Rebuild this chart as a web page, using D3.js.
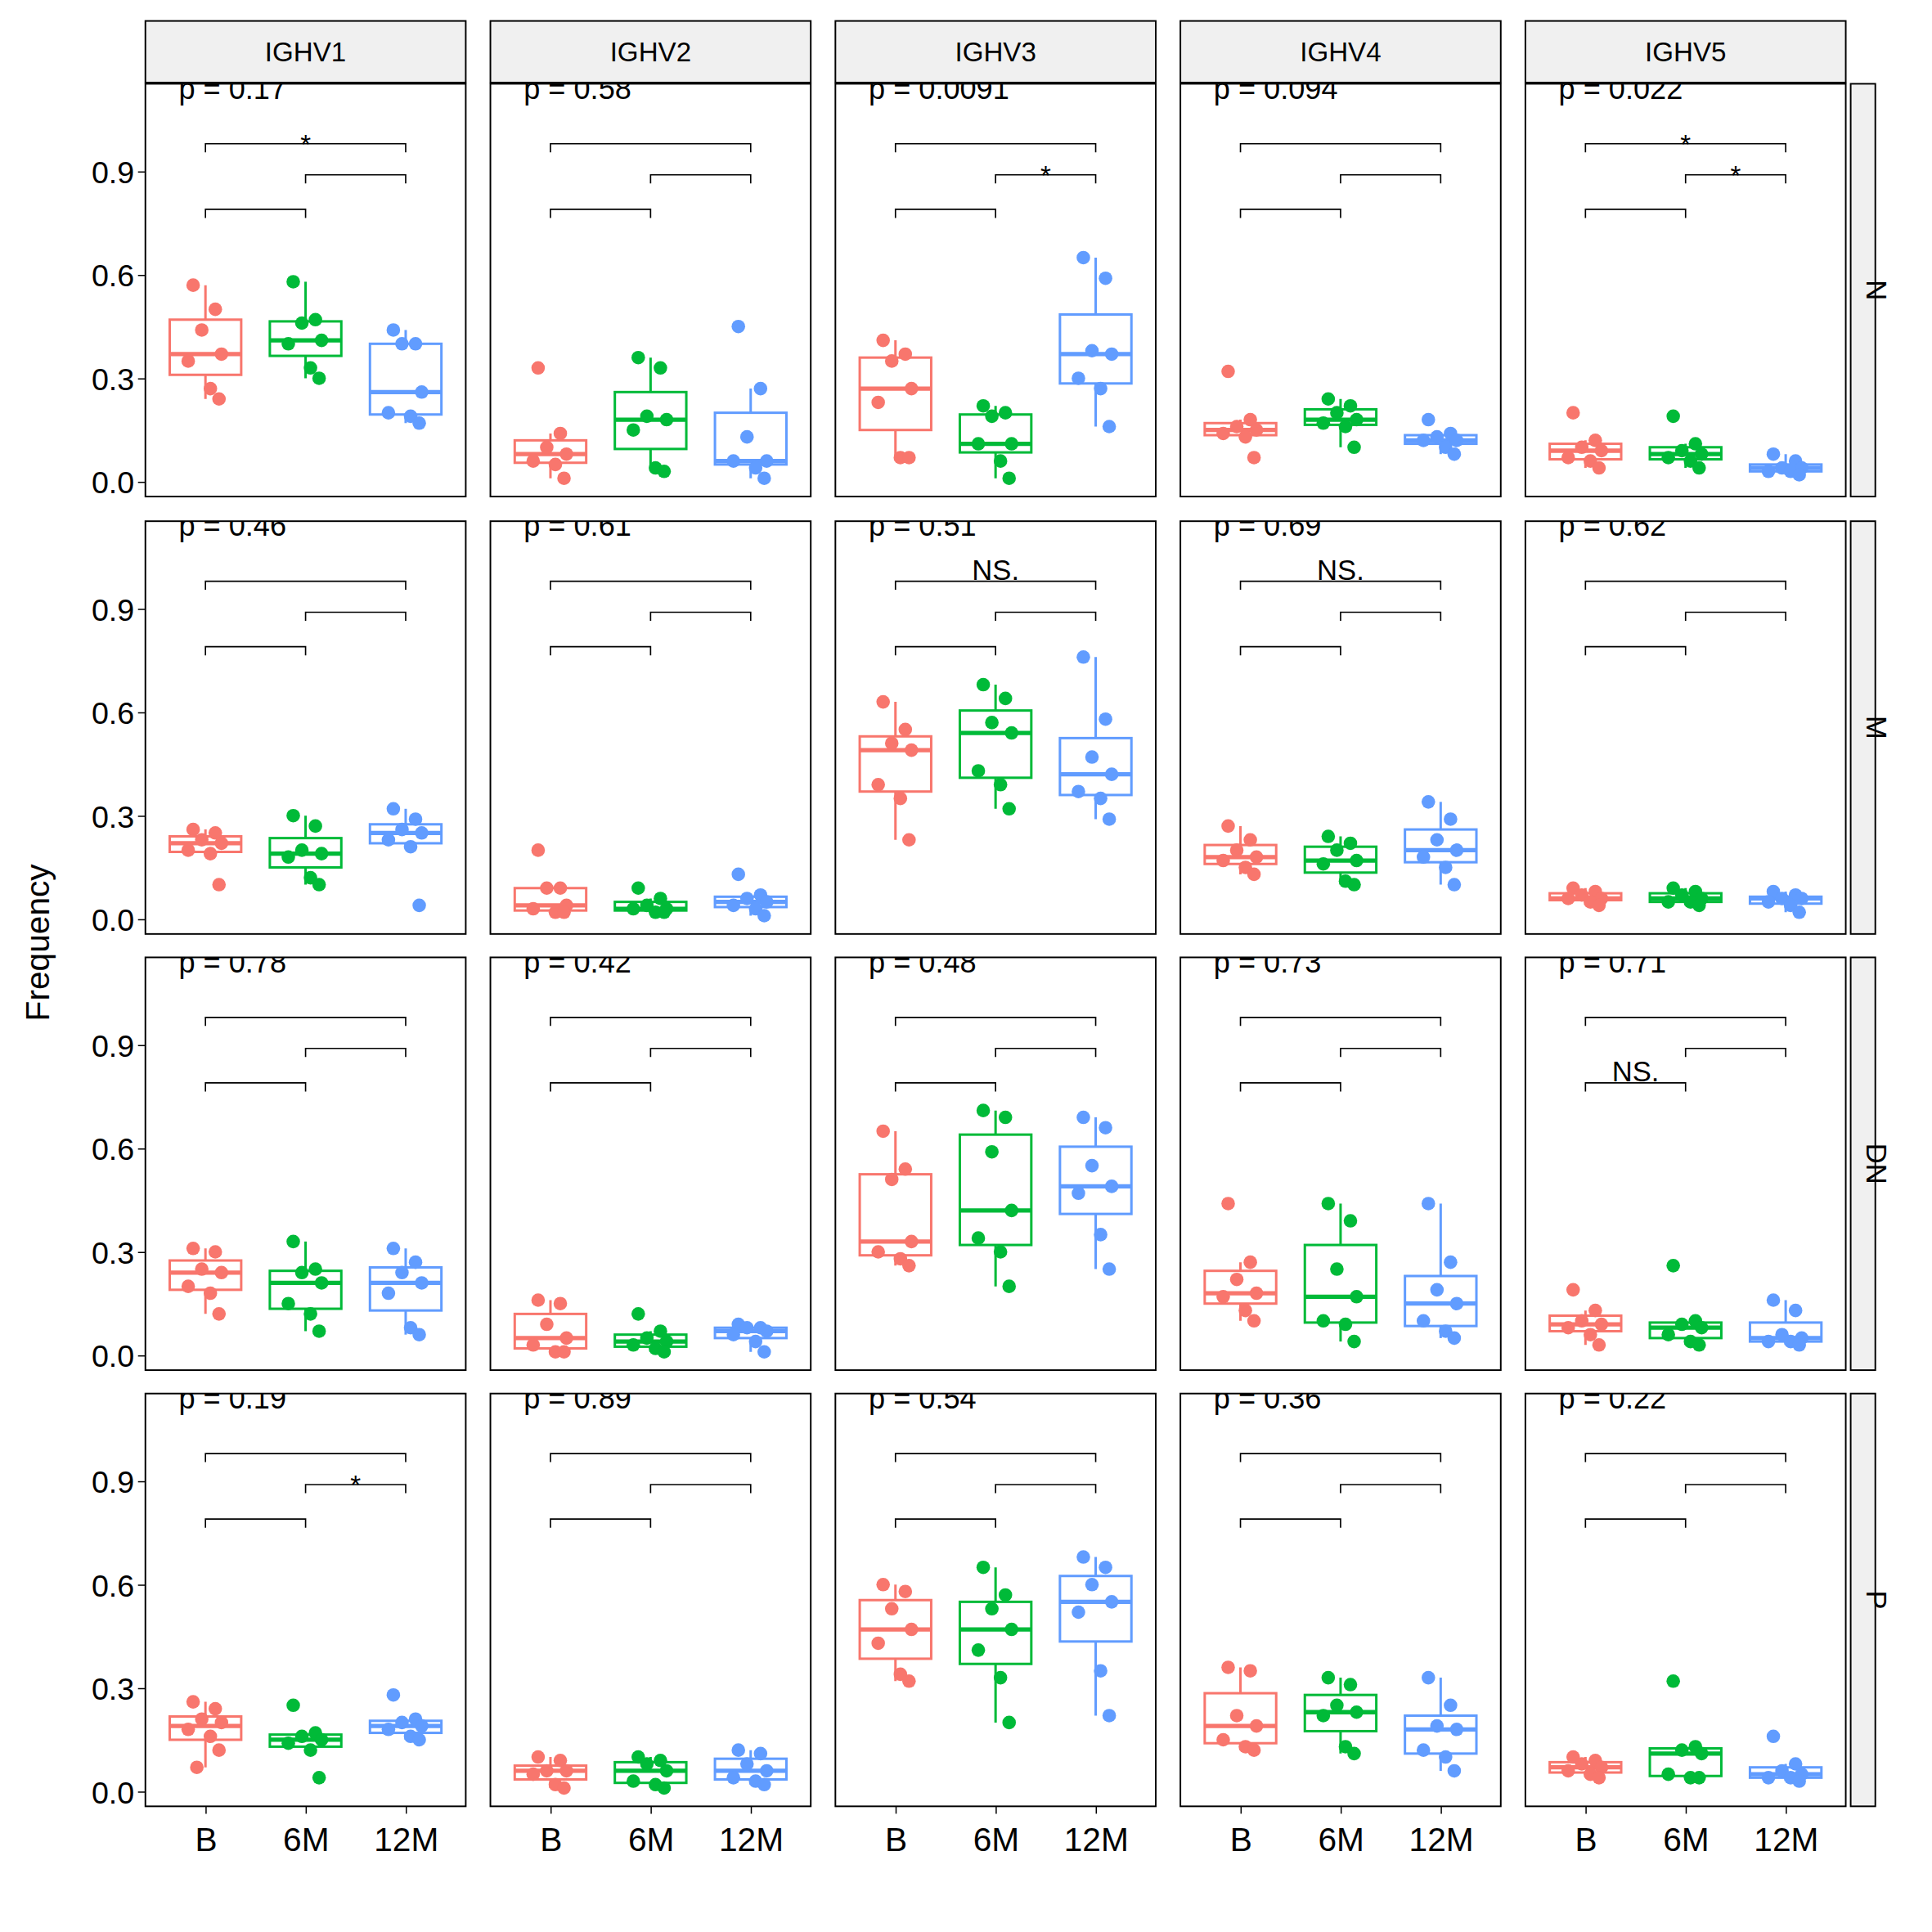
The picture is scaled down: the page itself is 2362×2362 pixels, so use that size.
<!DOCTYPE html>
<html><head><meta charset="utf-8">
<script src="https://cdn.jsdelivr.net/npm/d3@7"></script>
<style>body{margin:0;background:#fff}text{font-family:"Liberation Sans",Arial,sans-serif}</style>
</head><body><svg id="chart"></svg>
<script>
var genes = ["IGHV1","IGHV2","IGHV3","IGHV4","IGHV5"];
var cells = ["N","M","DN","P"];
var groups = ["B","6M","12M"];
var colors = ["#F8766D","#00BA38","#619CFF"];
var yTicks = [0,0.3,0.6,0.9];

// values[cell][gene] = [B, 6M, 12M]
var valuesN = [
 [[0.57,0.50,0.44,0.37,0.35,0.27,0.24],[0.58,0.47,0.46,0.41,0.40,0.33,0.30],[0.44,0.40,0.40,0.26,0.20,0.19,0.17]],
 [[0.33,0.14,0.10,0.08,0.06,0.05,0.01],[0.36,0.33,0.19,0.18,0.15,0.04,0.03],[0.45,0.27,0.13,0.06,0.06,0.04,0.01]],
 [[0.41,0.37,0.35,0.27,0.23,0.07,0.07],[0.22,0.20,0.19,0.11,0.11,0.06,0.01],[0.65,0.59,0.38,0.37,0.30,0.27,0.16]],
 [[0.32,0.18,0.16,0.15,0.14,0.13,0.07],[0.24,0.22,0.20,0.18,0.17,0.16,0.10],[0.18,0.14,0.13,0.12,0.12,0.10,0.08]],
 [[0.20,0.12,0.10,0.09,0.07,0.06,0.04],[0.19,0.11,0.09,0.08,0.07,0.06,0.04],[0.08,0.06,0.04,0.04,0.03,0.03,0.02]]];
var valuesM = [
 [[0.26,0.25,0.23,0.22,0.20,0.19,0.10],[0.30,0.27,0.20,0.19,0.18,0.12,0.10],[0.32,0.29,0.26,0.25,0.23,0.21,0.04]],
 [[0.20,0.09,0.09,0.04,0.03,0.02,0.02],[0.09,0.06,0.04,0.03,0.03,0.02,0.02],[0.13,0.07,0.06,0.05,0.04,0.03,0.01]],
 [[0.63,0.55,0.51,0.49,0.39,0.35,0.23],[0.68,0.64,0.57,0.54,0.43,0.39,0.32],[0.76,0.58,0.47,0.42,0.37,0.35,0.29]],
 [[0.27,0.23,0.20,0.18,0.17,0.15,0.13],[0.24,0.22,0.20,0.17,0.16,0.11,0.10],[0.34,0.29,0.23,0.20,0.18,0.15,0.10]],
 [[0.09,0.08,0.07,0.06,0.06,0.05,0.04],[0.09,0.08,0.07,0.06,0.05,0.05,0.04],[0.08,0.07,0.06,0.06,0.05,0.04,0.02]]];
var valuesDN = [
 [[0.31,0.30,0.25,0.24,0.20,0.18,0.12],[0.33,0.25,0.24,0.21,0.15,0.12,0.07],[0.31,0.27,0.24,0.21,0.18,0.08,0.06]],
 [[0.16,0.15,0.09,0.05,0.03,0.01,0.01],[0.12,0.07,0.05,0.04,0.03,0.02,0.01],[0.09,0.08,0.08,0.07,0.06,0.04,0.01]],
 [[0.65,0.54,0.51,0.33,0.30,0.28,0.26],[0.71,0.69,0.59,0.42,0.34,0.30,0.20],[0.69,0.66,0.55,0.49,0.47,0.35,0.25]],
 [[0.44,0.27,0.22,0.18,0.17,0.13,0.10],[0.44,0.39,0.25,0.17,0.10,0.09,0.04],[0.44,0.27,0.19,0.15,0.10,0.07,0.05]],
 [[0.19,0.13,0.10,0.09,0.08,0.06,0.03],[0.26,0.10,0.09,0.08,0.06,0.04,0.03],[0.16,0.13,0.06,0.05,0.04,0.04,0.03]]];
var valuesP = [
 [[0.26,0.24,0.21,0.20,0.18,0.16,0.12,0.07],[0.25,0.17,0.16,0.15,0.14,0.12,0.04],[0.28,0.21,0.20,0.19,0.18,0.16,0.15]],
 [[0.10,0.09,0.06,0.06,0.05,0.02,0.01],[0.10,0.09,0.08,0.06,0.03,0.02,0.01],[0.12,0.11,0.08,0.06,0.04,0.03,0.02]],
 [[0.60,0.58,0.53,0.47,0.43,0.34,0.32],[0.65,0.57,0.53,0.47,0.41,0.33,0.20],[0.68,0.65,0.60,0.55,0.52,0.35,0.22]],
 [[0.36,0.35,0.22,0.19,0.15,0.13,0.12],[0.33,0.31,0.25,0.23,0.22,0.13,0.11],[0.33,0.25,0.19,0.18,0.12,0.10,0.06]],
 [[0.10,0.09,0.08,0.07,0.06,0.05,0.04],[0.32,0.13,0.12,0.11,0.05,0.04,0.04],[0.16,0.08,0.06,0.05,0.04,0.04,0.03]]];
var values = [valuesN, valuesM, valuesDN, valuesP];

var pValues = [
 ["0.17","0.58","0.0091","0.094","0.022"],
 ["0.46","0.61","0.51","0.69","0.62"],
 ["0.78","0.42","0.48","0.73","0.71"],
 ["0.19","0.89","0.54","0.36","0.22"]];
// brackets: [from, to, height]
var brackets = [[0,1,0.79],[1,2,0.89],[0,2,0.98]];
// significance labels: [row, col, bracket index, label]
var sigLabels = [[0,0,2,"*"],[0,2,1,"*"],[0,4,2,"*"],[0,4,1,"*"],
 [1,2,2,"NS."],[1,3,2,"NS."],[2,4,0,"NS."],[3,0,1,"*"]];
var jitter = [-10,8,-3,13,-14,4,11,-7];

var S = 2362, V = 1568;
var svg = d3.select("#chart").attr("width", S).attr("height", S).attr("viewBox", "0 0 " + V + " " + V);
var colX = [118,398,678,958,1238], rowY = [68,423,777,1131];
var pw = 260, ph = 335;
var x = d3.scalePoint().domain(groups).range([0,pw]).padding(0.6);
var y = d3.scaleLinear().domain([-0.043,1.154]).range([ph,0]);
var boxW = 58;

cells.forEach(function(cell, r){
  genes.forEach(function(gene, c){
    var g = svg.append("g").attr("transform","translate("+colX[c]+","+rowY[r]+")");
    var cid = "clip"+r+"_"+c;
    g.append("clipPath").attr("id",cid).append("rect").attr("width",pw).attr("height",ph);
    var inner = g.append("g").attr("clip-path","url(#"+cid+")");
    values[r][c].forEach(function(vals, k){
      var s = vals.slice().sort(d3.ascending);
      var q1 = d3.quantileSorted(s,0.25), md = d3.quantileSorted(s,0.5), q3 = d3.quantileSorted(s,0.75);
      var iqr = q3-q1;
      var lo = d3.min(s.filter(function(v){return v>=q1-1.5*iqr;}));
      var hi = d3.max(s.filter(function(v){return v<=q3+1.5*iqr;}));
      var cx = x(groups[k]), col = colors[k];
      inner.append("line").attr("x1",cx).attr("x2",cx).attr("y1",y(hi)).attr("y2",y(q3)).attr("stroke",col).attr("stroke-width",2);
      inner.append("line").attr("x1",cx).attr("x2",cx).attr("y1",y(lo)).attr("y2",y(q1)).attr("stroke",col).attr("stroke-width",2);
      inner.append("rect").attr("x",cx-boxW/2).attr("width",boxW).attr("y",y(q3)).attr("height",y(q1)-y(q3))
        .attr("fill","#fff").attr("stroke",col).attr("stroke-width",2);
      inner.append("line").attr("x1",cx-boxW/2).attr("x2",cx+boxW/2).attr("y1",y(md)).attr("y2",y(md)).attr("stroke",col).attr("stroke-width",3.5);
      inner.selectAll(null).data(vals).enter().append("circle")
        .attr("cx",function(d,i){return cx+jitter[i%jitter.length];}).attr("cy",function(d){return y(d);})
        .attr("r",5.5).attr("fill",col);
    });
    brackets.forEach(function(b){
      var x1 = x(groups[b[0]]), x2 = x(groups[b[1]]), yy = y(b[2]), yd = y(b[2]-0.025);
      inner.append("path").attr("d","M"+x1+","+yd+"V"+yy+"H"+x2+"V"+yd).attr("fill","none").attr("stroke","#000").attr("stroke-width",1.1);
    });
    sigLabels.filter(function(s){return s[0]===r&&s[1]===c;}).forEach(function(s){
      var b = brackets[s[2]];
      var mx = (x(groups[b[0]])+x(groups[b[1]]))/2;
      var star = s[3]==="*";
      inner.append("text").attr("x",mx).attr("y",y(b[2])+(star?8:-1)).attr("text-anchor","middle")
        .attr("font-size",star?22:23).text(s[3]);
    });
    inner.append("text").attr("x",27).attr("y",12).attr("font-size",24).text("p = "+pValues[r][c]);
    g.append("rect").attr("width",pw).attr("height",ph).attr("fill","none").attr("stroke","#000").attr("stroke-width",1.3);
    if (c===0){
      var ay = d3.axisLeft(y).tickValues(yTicks).tickFormat(d3.format(".1f")).tickSize(6);
      var ga = g.append("g").call(ay);
      ga.select(".domain").remove();
      ga.selectAll("text").attr("font-size",25).attr("fill","#000").attr("dy","0.36em").attr("font-family","Liberation Sans, Arial, sans-serif");
      ga.selectAll("line").attr("stroke","#000");
    }
    if (r===cells.length-1){
      var ax = d3.axisBottom(x).tickSize(6);
      var gx = g.append("g").attr("transform","translate(0,"+ph+")").call(ax);
      gx.select(".domain").remove();
      gx.selectAll("text").attr("font-size",27).attr("fill","#000").attr("dy","1.0em").attr("font-family","Liberation Sans, Arial, sans-serif");
      gx.selectAll("line").attr("stroke","#000");
    }
    if (r===0){
      svg.append("rect").attr("x",colX[c]).attr("y",17).attr("width",pw).attr("height",50).attr("fill","#F0F0F0").attr("stroke","#000").attr("stroke-width",1.3);
      svg.append("text").attr("x",colX[c]+pw/2).attr("y",50).attr("text-anchor","middle").attr("font-size",22).text(gene);
    }
  });
  svg.append("rect").attr("x",1502).attr("y",rowY[r]).attr("width",20).attr("height",ph).attr("fill","#F0F0F0").attr("stroke","#000").attr("stroke-width",1.3);
  svg.append("text").attr("transform","translate(1515,"+(rowY[r]+ph/2)+") rotate(90)").attr("text-anchor","middle").attr("font-size",23).text(cell);
});
svg.append("text").attr("transform","translate(40,765) rotate(-90)").attr("text-anchor","middle").attr("font-size",27).text("Frequency");
</script></body></html>
